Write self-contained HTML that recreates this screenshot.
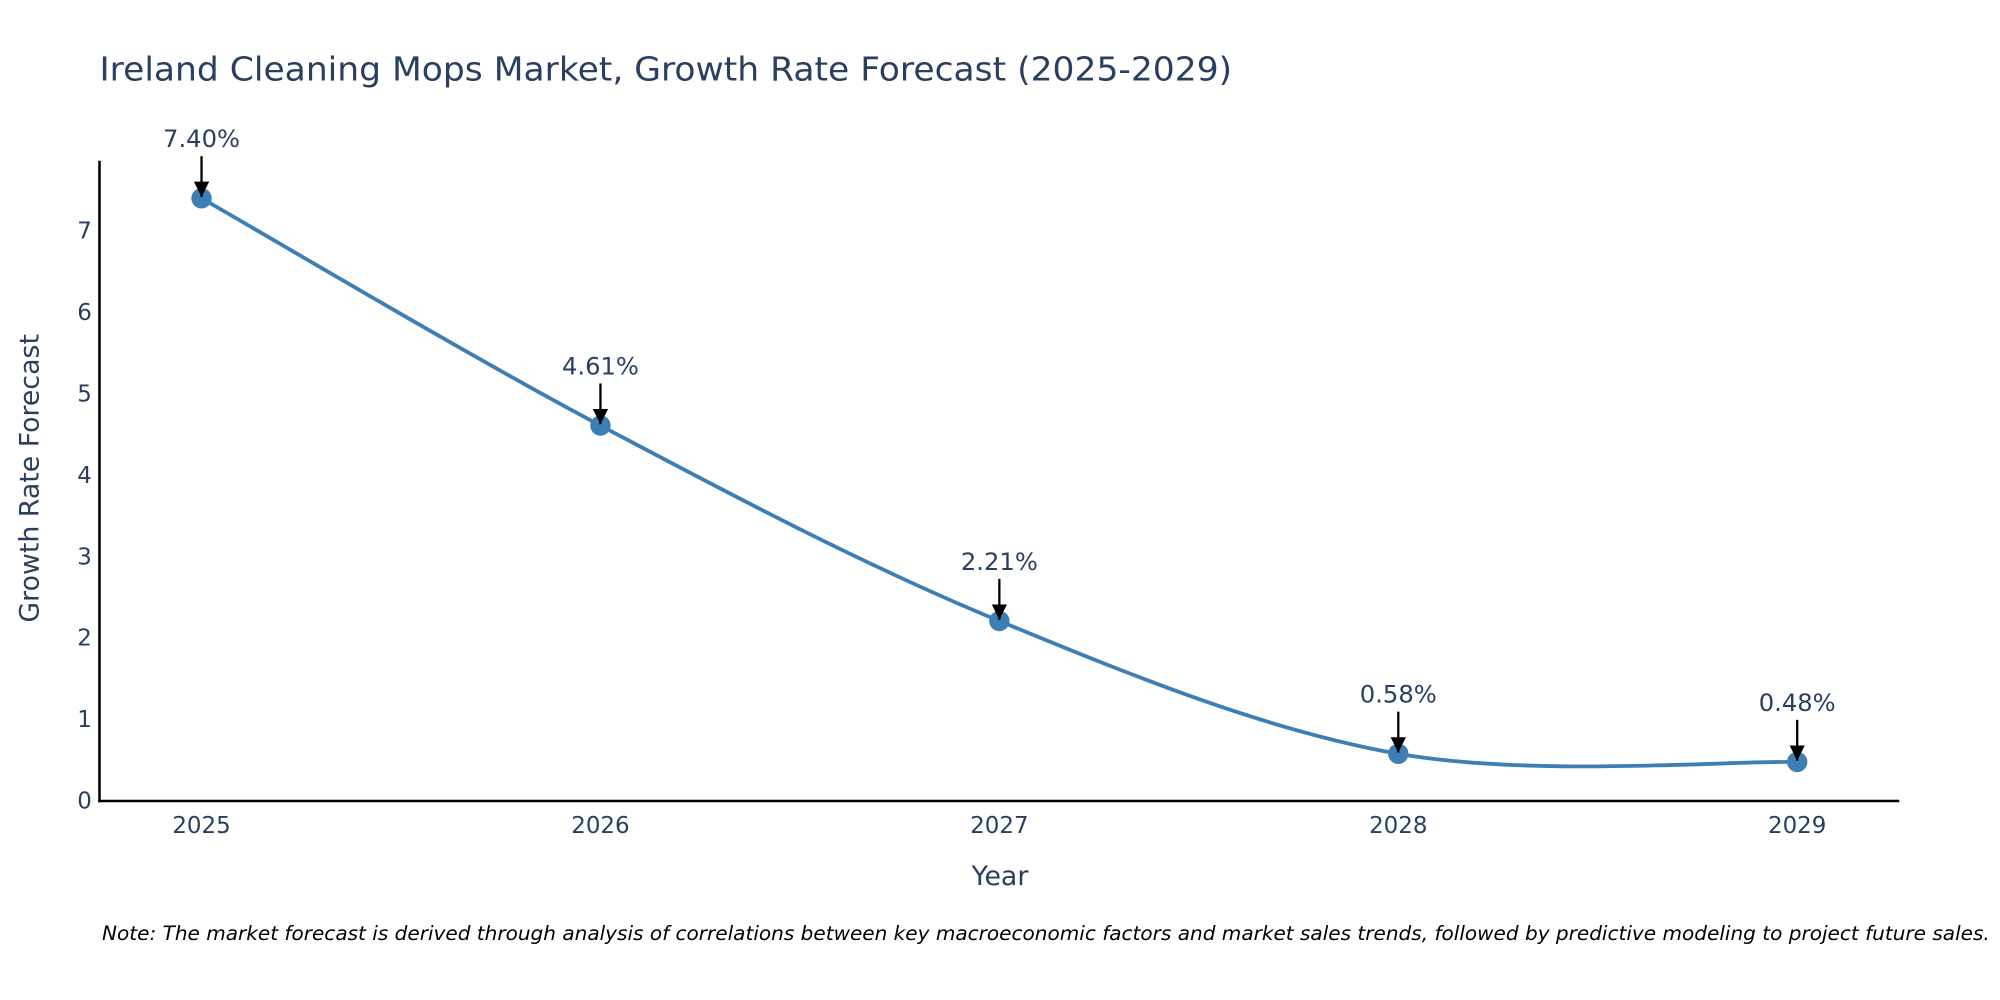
<!DOCTYPE html>
<html><head><meta charset="utf-8"><style>
html,body{margin:0;padding:0;background:#fff;width:2000px;height:1000px;overflow:hidden}
svg{display:block;font-family:"DejaVu Sans","Liberation Sans",sans-serif}
</style></head><body>
<svg id="chart" width="2000" height="1000" viewBox="0 0 1568 784" xmlns="http://www.w3.org/2000/svg">
<rect width="1568" height="784" fill="#fff"/>
<text x="78" y="63" font-size="26" fill="#2a3f5f" textLength="888" lengthAdjust="spacingAndGlyphs">Ireland Cleaning Mops Market, Growth Rate Forecast (2025-2029)</text>
<g id="yticks"></g><g id="xticks"></g>
<line x1="78" y1="126" x2="78" y2="629" stroke="#000" stroke-width="2"/>
<line x1="77" y1="628" x2="1489" y2="628" stroke="#000" stroke-width="2"/>
<text transform="translate(30,375) rotate(-90)" text-anchor="middle" font-size="21" fill="#2a3f5f">Growth Rate Forecast</text>
<text x="784" y="694" text-anchor="middle" font-size="21" fill="#2a3f5f">Year</text>
<g id="series"></g>
<text x="80" y="737" font-size="15" font-style="italic" fill="#000" textLength="1480" lengthAdjust="spacingAndGlyphs">Note: The market forecast is derived through analysis of correlations between key macroeconomic factors and market sales trends, followed by predictive modeling to project future sales.</text>
<defs>
<marker id="ah2" viewBox="0 0 10 10" refX="10" refY="5" markerWidth="12" markerHeight="12" markerUnits="userSpaceOnUse" orient="auto"><path d="M0,0L10,5L0,10z" fill="#000"/></marker></defs>
</svg>
<script>
const years=[2025,2026,2027,2028,2029];
const values=[7.40,4.61,2.21,0.58,0.48];
const labels=["7.40%","4.61%","2.21%","0.58%","0.48%"];
const yTicks=[0,1,2,3,4,5,6,7];
const NS="http://www.w3.org/2000/svg";
const xs=i=>158+(years[i]-years[0])*(1409-158)/(years[years.length-1]-years[0]);
const ys=v=>628-v*63.86;
function mk(t,a,p){const e=document.createElementNS(NS,t);for(const k in a)e.setAttribute(k,a[k]);p.appendChild(e);return e;}
const yt=document.getElementById('yticks'),xt=document.getElementById('xticks'),sg=document.getElementById('series');
yTicks.forEach(v=>{const t=mk('text',{x:72,y:ys(v)+6,'text-anchor':'end','font-size':18,fill:'#2a3f5f'},yt);t.textContent=v;

});
years.forEach((y,i)=>{const t=mk('text',{x:xs(i),y:653,'text-anchor':'middle','font-size':18,fill:'#2a3f5f'},xt);t.textContent=y;

});
const P=values.map((v,i)=>[xs(i),ys(v)]);
let d='M'+P[0][0]+','+P[0][1];
for(let i=0;i<P.length-1;i++){const p0=P[i-1]||P[i],p1=P[i],p2=P[i+1],p3=P[i+2]||p2;const s=1/6;
d+=` C${p1[0]+(p2[0]-p0[0])*s},${p1[1]+(p2[1]-p0[1])*s} ${p2[0]-(p3[0]-p1[0])*s},${p2[1]-(p3[1]-p1[1])*s} ${p2[0]},${p2[1]}`;}
const line=mk('path',{d:d,fill:'none',stroke:'#3d7fb5','stroke-width':3},sg);


P.forEach((p,i)=>{const c=mk('circle',{cx:p[0],cy:p[1],r:8,fill:'#3d7fb5'},sg);


const a=mk('line',{x1:p[0],y1:p[1]-33,x2:p[0],y2:p[1]-1,stroke:'#000','stroke-width':1.8,'marker-end':'url(#ah2)'},sg);


const t=mk('text',{x:p[0],y:p[1]-40,'text-anchor':'middle','font-size':19,fill:'#2a3f5f'},sg);t.textContent=labels[i];

});
</script>
</body></html>
